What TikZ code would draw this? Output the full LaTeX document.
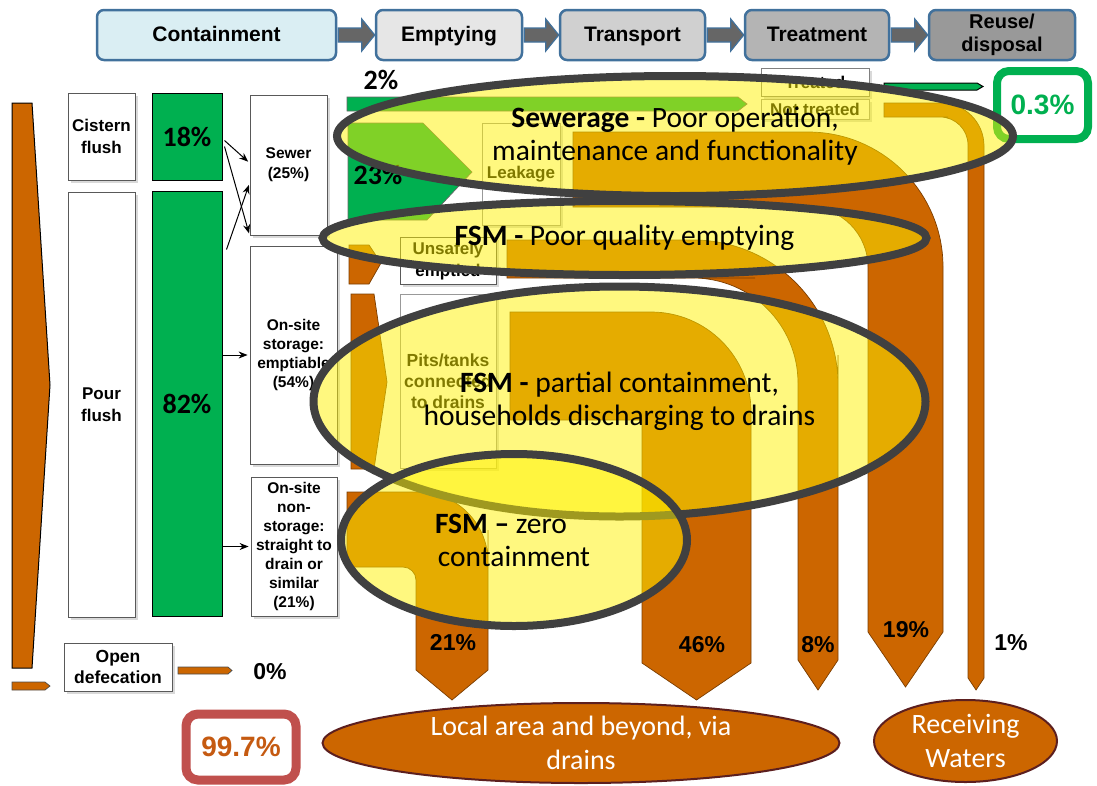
\documentclass[tikz,border=0pt]{standalone}
\usepackage{fontspec}
\setmainfont{Liberation Sans}
\newfontfamily\carlito{Carlito}
\usetikzlibrary{shapes.geometric,shadows,calc,arrows.meta}

\definecolor{stageedge}{HTML}{41719C}
\definecolor{stagefill}{HTML}{666666}
\definecolor{contfill}{HTML}{DAEEF3}
\definecolor{emptfill}{HTML}{E6E6E6}
\definecolor{transfill}{HTML}{D0D0D0}
\definecolor{treatfill}{HTML}{B4B4B4}
\definecolor{reusefill}{HTML}{999999}
\definecolor{safegreen}{HTML}{00B050}
\definecolor{sludge}{HTML}{CC6600}
\definecolor{sludgeedge}{HTML}{7A3D00}
\definecolor{ringgray}{HTML}{404040}
\definecolor{unsafered}{HTML}{C0504D}
\definecolor{unsafetext}{HTML}{C55A11}
\definecolor{sinkedge}{HTML}{5C1F1F}

\tikzset{
  stage/.style={draw=stageedge, line width=2.5pt, rounded corners=7pt, minimum height=50pt,
    font=\bfseries\fontsize{21}{22}\selectfont, align=center},
  stageline/.style={text height=15pt, text depth=2pt},
  stagearrow/.style={fill=stagefill, draw=stageedge, line width=1.2pt},
  wbox/.style={draw=black!65, fill=white, line width=0.8pt, align=center, inner sep=2pt,
    drop shadow={shadow xshift=2.5pt, shadow yshift=-2.5pt, opacity=0.3}},
  gbox/.style={draw=black, fill=safegreen, line width=1pt, font=\carlito\bfseries\fontsize{28}{30}\selectfont},
  pipe/.style={fill=sludge, draw=sludgeedge, line width=0.7pt},
  gpipe/.style={fill=safegreen, draw=black!60, line width=0.7pt},
  flow/.style={-{Stealth[length=9pt,width=7pt]}, line width=1pt, shorten >=2pt},
  pct/.style={font=\bfseries\fontsize{23}{25}\selectfont},
  cpct/.style={font=\carlito\bfseries\fontsize{28}{30}\selectfont},
  issue/.style={ellipse, draw=ringgray, line width=8pt, fill=yellow, fill opacity=0.5, text opacity=1,
    align=center, inner sep=0pt, font=\carlito\fontsize{29.5}{33}\selectfont},
  sink/.style={ellipse, draw=sinkedge, line width=2pt, fill=sludge, text=white, align=center,
    inner sep=0pt, font=\carlito\fontsize{28}{34}\selectfont},
  tally/.style={fill=white, rounded corners=12pt, line width=8pt, font=\bfseries\fontsize{28}{30}\selectfont}
}

\newcommand\stagelink[2]{%
  \draw[stagearrow] ($(#1.east)+(1,-7)$) -- ($(#2.west)+(-13,-7)$) -- ($(#2.west)+(-13,-16)$)
    -- (#2.west) -- ($(#2.west)+(-13,16)$) -- ($(#2.west)+(-13,7)$) -- ($(#1.east)+(1,7)$) -- cycle;}

\begin{document}
\begin{tikzpicture}[x=1pt,y=-1pt]
    \useasboundingbox (0,0) rectangle (1097,785);

    \node[stage, stageline, fill=contfill, minimum width=239pt] (stagecont) at (216.5,35) {Containment};
    \node[stage, stageline, fill=emptfill, minimum width=146pt] (stageempty) at (449,35) {Emptying};
    \node[stage, stageline, fill=transfill, minimum width=145pt] (stagetransport) at (632.5,35) {Transport};
    \node[stage, stageline, fill=treatfill, minimum width=144pt] (stagetreat) at (817,35) {Treatment};
    \node[stage, fill=reusefill, minimum width=146pt, font=\bfseries\fontsize{20}{23}\selectfont] (stagereuse) at (1002,35) {Reuse/\\disposal};
    \stagelink{stagecont}{stageempty}
    \stagelink{stageempty}{stagetransport}
    \stagelink{stagetransport}{stagetreat}
    \stagelink{stagetreat}{stagereuse}

    \draw[pipe, draw=black, line width=1pt] (12,103) -- (32,103) -- (50,385) -- (32,668) -- (12,668) -- cycle;
    \draw[pipe, draw=black!70] (12,682) -- (45,682) -- (50,686) -- (45,690) -- (12,690) -- cycle;
    \draw[pipe, draw=black!70] (178,667) -- (228,667) -- (232,670.5) -- (228,674) -- (178,674) -- cycle;

    \node[wbox, minimum width=67pt, minimum height=87pt, font=\bfseries\fontsize{17}{22}\selectfont] (cistern) at (101.5,136.5) {Cistern\\flush};
    \node[wbox, minimum width=67pt, minimum height=425pt, font=\bfseries\fontsize{17}{22}\selectfont] (pour) at (101.5,404.5) {Pour\\flush};
    \node[gbox, minimum width=70pt, minimum height=87pt] (share18) at (187,136.5) {18\%};
    \node[gbox, minimum width=70pt, minimum height=425pt] (share82) at (187,403.5) {82\%};
    \node[wbox, minimum width=77pt, minimum height=140pt, font=\bfseries\fontsize{15.5}{20}\selectfont] (sewer) at (288.5,165) {Sewer\\(25\%)};
    \node[wbox, minimum width=87pt, minimum height=218pt, font=\bfseries\fontsize{15.5}{19}\selectfont] (storage) at (293.5,355) {On-site\\storage:\\emptiable\\(54\%)};
    \node[wbox, minimum width=86pt, minimum height=139pt, font=\bfseries\fontsize{15.5}{19}\selectfont] (nonstorage) at (294,546.5) {On-site\\non-\\storage:\\straight to\\drain or\\similar\\(21\%)};
    \node[wbox, minimum width=108pt, minimum height=48pt, font=\bfseries\fontsize{17.5}{21}\selectfont] (opendef) at (118,667) {Open\\defecation};

    \draw[flow] ([shift={(2,4)}]share18.east) -- ([shift={(0,-2)}]sewer.west);
    \draw[flow] ([shift={(2,10)}]share18.east) -- (sewer.south west);
    \draw[flow] ([shift={(4,59)}]share82.north east) -- ([shift={(0,18)}]sewer.west);
    \draw[flow] (share82.east |- storage.west) -- (storage.west);
    \draw[flow] (share82.east |- nonstorage.west) -- (nonstorage.west);

    \draw[gpipe] (347,97) -- (738,97) -- (747,104) -- (738,111) -- (347,111) -- cycle;
    \draw[gpipe] (348,123) -- (423,123) -- (472,172) -- (427,220) -- (348,220) -- cycle;
    \draw[pipe] (349,245) -- (369,245) -- (381,263) -- (369,284) -- (349,284) -- cycle;
    \draw[pipe] (351,294) -- (374,294) -- (387,382) -- (374,469) -- (351,469) -- cycle;
    \draw[gpipe, draw=black, line width=1pt] (884,83) -- (977,83) -- (983,86.5) -- (977,90) -- (884,90) -- cycle;

    \draw[pipe] (573,132) [rounded corners=135pt] -- (943,132) -- (943,450) [sharp corners] -- (943,632)
        -- (905.5,687) -- (868,632) -- (868,450) [rounded corners=60pt] -- (868,207) -- (700,207) [sharp corners] -- (573,207) -- cycle;
    \draw[pipe] (507,240) [rounded corners=145pt] -- (838,240) -- (838,500) [sharp corners] -- (838,660)
        -- (818,690) -- (798,660) -- (798,500) [rounded corners=105pt] -- (798,278) -- (650,278) [sharp corners] -- (507,278) -- cycle;
    \draw[pipe] (510,312) [rounded corners=100pt] -- (751,312) -- (751,550) [sharp corners] -- (751,663)
        -- (696.5,700) -- (642,663) -- (642,420) -- (510,420) -- cycle;
    \draw[pipe] (347,492) [rounded corners=70pt] -- (488,492) -- (488,600) [sharp corners] -- (488,670)
        -- (452,700) -- (416,670) -- (416,600) [rounded corners=13pt] -- (416,567) -- (380,567) [sharp corners] -- (347,567) -- cycle;
    \draw[pipe] (884,103) [rounded corners=43pt] -- (984,103) -- (984,400) [sharp corners] -- (984,678)
        -- (976,690) -- (968,678) -- (968,400) [rounded corners=28pt] -- (968,117) -- (920,117) [sharp corners] -- (884,117) -- cycle;

    \node[wbox, draw=black!40, minimum width=78pt, minimum height=102pt, font=\bfseries\fontsize{17}{20}\selectfont] (leakage) at (521,174) {Leakage};
    \node[wbox, minimum width=96pt, minimum height=47pt, inner sep=0pt, font=\bfseries\fontsize{17}{22}\selectfont] (unsafe) at (448,261) {Unsafely\\emptied};
    \node[wbox, draw=black!40, minimum width=96pt, minimum height=174pt, font=\bfseries\fontsize{17.5}{21}\selectfont] (pits) at (448,381) {Pits/tanks\\connected\\to drains};
    \node[wbox, draw=black!50, minimum width=108pt, minimum height=28pt, inner sep=0pt, font=\bfseries\fontsize{17}{19}\selectfont] (treated) at (815,82) {Treated};
    \node[wbox, draw=black!40, minimum width=108pt, minimum height=20pt, inner sep=0pt, font=\bfseries\fontsize{17}{19}\selectfont] (nottreated) at (815,109) {Not treated};

    \node[cpct] (lbl2) at (381,80) {2\%};
    \node[cpct] (lbl23) at (378,175) {23\%};
    \node[pct] (lbl0) at (270,672) {0\%};
    \node[pct] (lbl21) at (453,643) {21\%};
    \node[pct] (lbl46) at (702,645) {46\%};
    \node[pct] (lbl8) at (818,645) {8\%};
    \node[pct] (lbl19) at (906,630) {19\%};
    \node[pct] (lbl1) at (1011,643) {1\%};

    \node[tally, draw=safegreen, text=safegreen, minimum width=91pt, minimum height=68pt] (safeshare) at (1042.5,105) {0.3\%};
    \node[tally, draw=unsafered, text=unsafetext, line width=9pt, minimum width=110pt, minimum height=66pt] (unsafeshare) at (241,747) {99.7\%};
    \node[sink, minimum width=517pt, minimum height=80pt] (localarea) at (581,743) {Local area and beyond, via\\drains};
    \node[sink, minimum width=183pt, minimum height=82pt] (waters) at (965.5,741) {Receiving\\Waters};

    \node[issue, minimum width=676pt, minimum height=120pt] (sewerissue) at (675,136) {\textbf{Sewerage -} Poor operation,\\maintenance and functionality};
    \node[issue, minimum width=604pt, minimum height=74pt] (emptyissue) at (624.5,238) {\textbf{FSM -} Poor quality emptying};
    \node[issue, minimum width=612pt, minimum height=230pt] (drainissue) at (619.5,401.5) {\textbf{FSM -} partial containment,\\households discharging to drains};
    \node[issue, minimum width=346pt, minimum height=172pt] (zeroissue) at (514,540) {\textbf{FSM –} zero\kern26pt\\containment};
\end{tikzpicture}
\end{document}
